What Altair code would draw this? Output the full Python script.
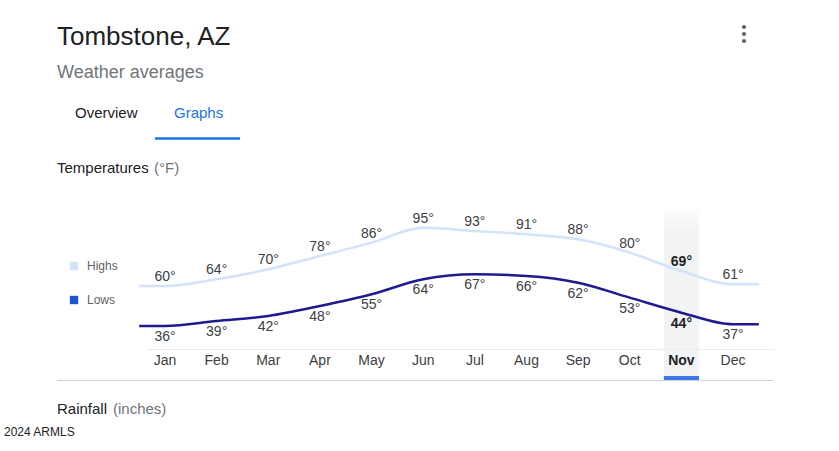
import altair as alt
import pandas as pd

months = ["Jan", "Feb", "Mar", "Apr", "May", "Jun", "Jul", "Aug", "Sep", "Oct", "Nov", "Dec"]
highs = [60, 64, 70, 78, 86, 95, 93, 91, 88, 80, 69, 61]
lows = [36, 39, 42, 48, 55, 64, 67, 66, 62, 53, 44, 37]
selected = "Nov"

FONT = "Liberation Sans"
HI_COLOR = "#d2e3fc"
LO_COLOR = "#1f1b8f"

idx = list(range(len(months)))
df = pd.DataFrame({"i": idx, "month": months, "high": highs, "low": lows})
df["sel"] = df["month"] == selected

# line data extended half a step at each end with first/last values
ext_i = [-0.5] + idx + [len(months) - 0.5]
line_df = pd.DataFrame({
    "i": ext_i,
    "high": [highs[0]] + highs + [highs[-1]],
    "low": [lows[0]] + lows + [lows[-1]],
})

xs = alt.Scale(domain=[-3.195, 13.052], nice=False, zero=False)
ys = alt.Scale(domain=[-39, 231.6], nice=False, zero=False)
X = lambda f: alt.X(f, type="quantitative", scale=xs, axis=None)
Y = lambda f: alt.Y(f, type="quantitative", scale=ys, axis=None)

base = alt.Chart(df)
sel_df = df[df["sel"]]

band = alt.Chart(sel_df).transform_calculate(
    a="datum.i - 0.34", b="datum.i + 0.34"
).mark_rect(
    fill=alt.Gradient(gradient="linear", x1=0, y1=0, x2=0, y2=1,
                      stops=[alt.GradientStop(color="#ffffff", offset=0),
                             alt.GradientStop(color="#f1f3f4", offset=0.15),
                             alt.GradientStop(color="#f1f3f4", offset=1)])
).encode(x=X("a:Q"), x2="b:Q", y=alt.value(205), y2=alt.value(380))

band_bar = alt.Chart(sel_df).transform_calculate(
    a="datum.i - 0.34", b="datum.i + 0.34"
).mark_rect(color="#3b78e7").encode(x=X("a:Q"), x2="b:Q", y=alt.value(376), y2=alt.value(380))

sep1 = alt.Chart(pd.DataFrame({"a": [-0.35], "b": [11.8]})).mark_rule(color="#ebebeb", strokeWidth=1).encode(
    x=X("a:Q"), x2="b:Q", y=alt.value(349.5))
sep2 = alt.Chart(pd.DataFrame({"a": [0]})).mark_rule(color="#d0d0d0", strokeWidth=1).encode(
    x=alt.value(57), x2=alt.value(773), y=alt.value(380.5))

hi_line = alt.Chart(line_df).mark_line(color=HI_COLOR, strokeWidth=2.5, interpolate="monotone").encode(
    x=X("i:Q"), y=Y("high:Q"))
lo_line = alt.Chart(line_df).mark_line(color=LO_COLOR, strokeWidth=2.5, interpolate="monotone").encode(
    x=X("i:Q"), y=Y("low:Q"))

def temp_text(field, dy, bold):
    d = sel_df if bold else df[~df["sel"]]
    return alt.Chart(d).transform_calculate(
        lab=f"datum.{field} + '°'"
    ).mark_text(font=FONT, fontSize=14, dy=dy, baseline="middle", align="center",
                color="#202124" if bold else "#3c4043",
                fontWeight="bold" if bold else "normal").encode(
        x=X("i:Q"), y=Y(f"{field}:Q"), text="lab:N")

hi_txt = temp_text("high", -9, False)
hi_txt_b = temp_text("high", -9, True)
lo_txt = temp_text("low", 11, False)
lo_txt_b = temp_text("low", 11, True)

mon_txt = alt.Chart(df[~df["sel"]]).mark_text(font=FONT, fontSize=14, baseline="middle", color="#3c4043").encode(
    x=X("i:Q"), y=alt.value(361), text="month:N")
mon_txt_b = alt.Chart(sel_df).mark_text(font=FONT, fontSize=14, baseline="middle", color="#202124",
                                        fontWeight="bold").encode(
    x=X("i:Q"), y=alt.value(361), text="month:N")

def label(txt, x, y, size, color, weight="normal", baseline="alphabetic"):
    return alt.Chart(pd.DataFrame({"t": [txt]})).mark_text(
        font=FONT, fontSize=size, color=color, align="left", baseline=baseline, fontWeight=weight
    ).encode(x=alt.value(x), y=alt.value(y), text="t:N")

title = label("Tombstone, AZ", 57, 45, 26, "#202124")
sub = label("Weather averages", 57, 78, 18, "#70757a")
tab1 = label("Overview", 75, 118, 15, "#202124")
tab2 = label("Graphs", 174, 118, 15, "#1a73e8")
tab_ul = alt.Chart(pd.DataFrame({"a": [0]})).mark_rule(color="#1a73e8", strokeWidth=2.5).encode(
    x=alt.value(155), x2=alt.value(240), y=alt.value(138.5))
temp1 = label("Temperatures", 57, 173, 15, "#202124")
temp2 = label("(°F)", 154, 173, 15, "#70757a")
rain1 = label("Rainfall", 57, 414, 15, "#202124")
rain2 = label("(inches)", 113, 414, 15, "#70757a")
wm = label("2024 ARMLS", 4, 436, 12, "#222222")

leg_sq = alt.Chart(pd.DataFrame({"y": [266, 300], "c": [HI_COLOR, "#1f56c9"]})).mark_square(
    size=70, opacity=1).encode(x=alt.value(74), y=alt.Y("y:Q", scale=None), color=alt.Color("c:N", scale=None))
leg_t1 = label("Highs", 87, 266, 12, "#5f6368", baseline="middle")
leg_t2 = label("Lows", 87, 300, 12, "#5f6368", baseline="middle")

dots = alt.Chart(pd.DataFrame({"y": [27, 34, 41]})).mark_circle(size=18, color="#5f6368", opacity=1).encode(
    x=alt.value(744), y=alt.Y("y:Q", scale=None))

chart = alt.layer(
    band, band_bar, sep1, sep2, hi_line, lo_line, hi_txt, hi_txt_b, lo_txt, lo_txt_b,
    mon_txt, mon_txt_b, title, sub, tab1, tab2, tab_ul, temp1, temp2, rain1, rain2, wm,
    leg_sq, leg_t1, leg_t2, dots
).resolve_scale(y="independent").properties(
    width=839, height=451, padding=0, autosize=alt.AutoSizeParams(type="none"),
    background="white"
).configure_view(stroke=None)

chart.save("out.html", embed_options={"renderer": "svg", "actions": False})
